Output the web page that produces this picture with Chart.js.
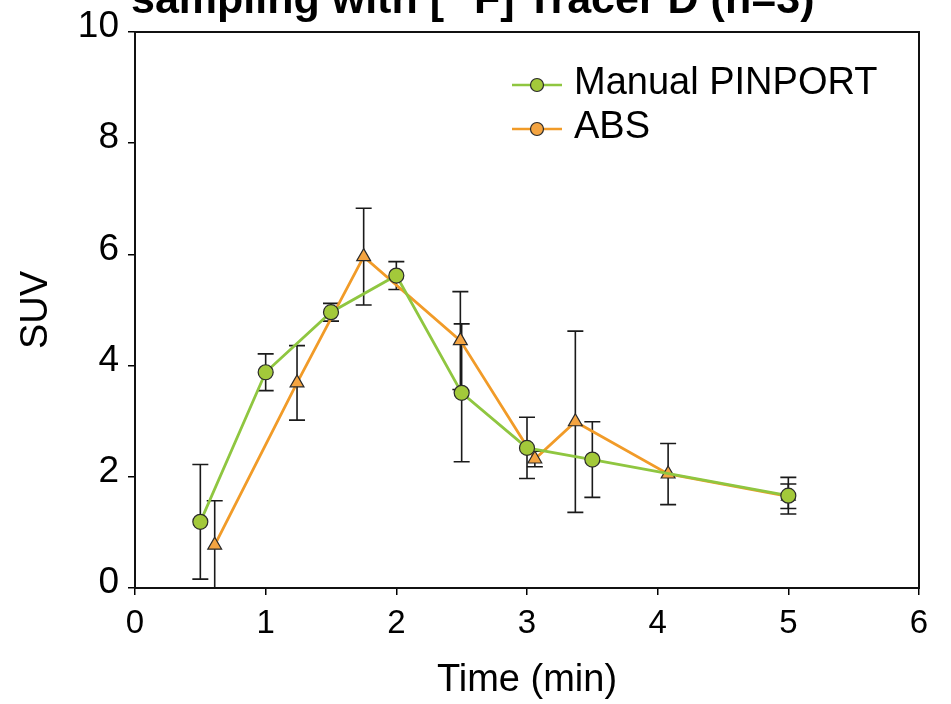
<!DOCTYPE html>
<html>
<head>
<meta charset="utf-8">
<script src="https://cdn.jsdelivr.net/npm/chart.js@4/dist/chart.umd.min.js"></script>
<style>
  html, body { margin: 0; padding: 0; background: #fff; }
  #wrap { width: 951px; height: 704px; position: relative; }
</style>
</head>
<body>
<div id="wrap"><canvas id="suvChart"></canvas></div>
<script>
// sampling times (min), mean SUV and SD for both methods
const pinportTime = [0.5, 1.0, 1.5, 2.0, 2.5, 3.0, 3.5, 5.0];
const pinportSUV  = [1.19, 3.88, 4.96, 5.62, 3.51, 2.52, 2.31, 1.66];
const pinportSD   = [1.03, 0.33, 0.16, 0.25, 1.24, 0.55, 0.68, 0.33];

const absTime = [0.61, 1.24, 1.75, 2.49, 3.06, 3.37, 4.08, 5.0];
const absSUV  = [0.77, 3.69, 5.96, 4.45, 2.32, 2.99, 2.05, 1.65];
const absSD   = [0.80, 0.67, 0.87, 0.88, 0.14, 1.63, 0.55, 0.22];

const seriesNames = ["Manual PINPORT", "ABS"];
const xTicks = [0, 1, 2, 3, 4, 5, 6];
const yTicks = [0, 2, 4, 6, 8, 10];

const GREEN_LINE = "#8fc640";
const GREEN_FILL = "#a3c93a";
const ORANGE_LINE = "#f19b28";
const ORANGE_FILL = "#f4a441";
const EDGE = "#2a2a2a";
const FONT = "Arial, 'Liberation Sans', sans-serif";

const toPts = (xs, ys) => xs.map((x, i) => ({ x: x, y: ys[i] }));

// vertical SD bars with caps, drawn under the markers
const errorBars = {
  id: "errorBars",
  beforeDatasetsDraw(chart) {
    const { ctx, chartArea, scales } = chart;
    const sets = [pinportSD, absSD];
    ctx.save();
    ctx.beginPath();
    ctx.rect(chartArea.left, chartArea.top, chartArea.right - chartArea.left, chartArea.bottom - chartArea.top + 1);
    ctx.clip();
    ctx.strokeStyle = "#1a1a1a";
    ctx.lineWidth = 1.6;
    chart.data.datasets.forEach((ds, di) => {
      ds.data.forEach((p, i) => {
        const sd = sets[di][i];
        const x = scales.x.getPixelForValue(p.x);
        const yTop = scales.y.getPixelForValue(p.y + sd);
        const yBot = scales.y.getPixelForValue(p.y - sd);
        const cap = 8;
        ctx.beginPath();
        ctx.moveTo(x, yTop); ctx.lineTo(x, yBot);
        ctx.moveTo(x - cap, yTop); ctx.lineTo(x + cap, yTop);
        ctx.moveTo(x - cap, yBot); ctx.lineTo(x + cap, yBot);
        ctx.stroke();
      });
    });
    ctx.restore();
  }
};

// closed frame round the plot area
const frame = {
  id: "frame",
  afterDraw(chart) {
    const { ctx, chartArea: a } = chart;
    ctx.save();
    ctx.strokeStyle = "#111";
    ctx.lineWidth = 2;
    ctx.strokeRect(a.left, a.top, a.right - a.left, a.bottom - a.top);
    ctx.restore();
  }
};

// heading, mostly above the top edge of the canvas
const heading = {
  id: "heading",
  afterDraw(chart) {
    const ctx = chart.ctx;
    ctx.save();
    ctx.fillStyle = "#000";
    ctx.textBaseline = "alphabetic";
    let x = 131;
    const y = 13;
    const parts = [["sampling with [", false], ["18", true], ["F] Tracer D (n=3)", false]];
    parts.forEach(([t, sup]) => {
      ctx.font = sup ? "bold 27px " + FONT : "bold 43px " + FONT;
      ctx.fillText(t, x, sup ? y - 18 : y);
      x += ctx.measureText(t).width;
    });
    ctx.restore();
  }
};

// legend inside the plot: line with round marker, then the name
const insideLegend = {
  id: "insideLegend",
  afterDraw(chart) {
    const ctx = chart.ctx;
    const rows = [
      { y: 85, line: GREEN_LINE, fill: GREEN_FILL },
      { y: 129, line: ORANGE_LINE, fill: ORANGE_FILL }
    ];
    ctx.save();
    rows.forEach((r, i) => {
      ctx.strokeStyle = r.line;
      ctx.lineWidth = 2.6;
      ctx.beginPath();
      ctx.moveTo(512, r.y); ctx.lineTo(562, r.y);
      ctx.stroke();
      ctx.beginPath();
      ctx.arc(537, r.y, 6.5, 0, Math.PI * 2);
      ctx.fillStyle = r.fill;
      ctx.fill();
      ctx.strokeStyle = EDGE;
      ctx.lineWidth = 1.2;
      ctx.stroke();
      ctx.fillStyle = "#000";
      ctx.font = "38px " + FONT;
      ctx.textBaseline = "middle";
      ctx.fillText(seriesNames[i], 574, r.y - 1);
    });
    ctx.restore();
  }
};

new Chart(document.getElementById("suvChart"), {
  type: "line",
  data: {
    datasets: [
      {
        label: seriesNames[0],
        data: toPts(pinportTime, pinportSUV),
        borderColor: GREEN_LINE,
        borderWidth: 2.8,
        pointStyle: "circle",
        pointRadius: 7.5,
        pointBackgroundColor: GREEN_FILL,
        pointBorderColor: EDGE,
        pointBorderWidth: 1.2,
        tension: 0
      },
      {
        label: seriesNames[1],
        data: toPts(absTime, absSUV),
        borderColor: ORANGE_LINE,
        borderWidth: 2.8,
        pointStyle: "triangle",
        pointRadius: 8,
        pointBackgroundColor: ORANGE_FILL,
        pointBorderColor: EDGE,
        pointBorderWidth: 1.2,
        tension: 0
      }
    ]
  },
  options: {
    responsive: true,
    maintainAspectRatio: false,
    animation: false,
    layout: { padding: { top: 32, right: 32, left: 0, bottom: 0 } },
    plugins: {
      legend: { display: false },
      tooltip: { enabled: false }
    },
    scales: {
      x: {
        type: "linear",
        min: xTicks[0],
        max: xTicks[xTicks.length - 1],
        afterBuildTicks(s) { s.ticks = xTicks.map(v => ({ value: v })); },
        afterFit(s) { s.height = 116; },
        ticks: { color: "#000", font: { family: FONT, size: 33 }, padding: 9 },
        grid: { drawOnChartArea: false, drawTicks: true, tickLength: 7, color: "#000", lineWidth: 1.5 },
        border: { color: "#111", width: 2 },
        title: {
          display: true,
          text: "Time (min)",
          color: "#000",
          font: { family: FONT, size: 38, lineHeight: 1 },
          padding: { top: 0, bottom: 4 }
        }
      },
      y: {
        type: "linear",
        min: yTicks[0],
        max: yTicks[yTicks.length - 1],
        afterBuildTicks(s) { s.ticks = yTicks.map(v => ({ value: v })); },
        afterFit(s) { s.width = 135; },
        ticks: { color: "#000", font: { family: FONT, size: 37 }, padding: 9, labelOffset: -5 },
        grid: { drawOnChartArea: false, drawTicks: true, tickLength: 7, color: "#000", lineWidth: 1.5 },
        border: { color: "#111", width: 2 },
        title: {
          display: true,
          text: "SUV",
          color: "#000",
          font: { family: FONT, size: 38, lineHeight: 1 },
          padding: { top: 18, bottom: 0 }
        }
      }
    }
  },
  plugins: [errorBars, frame, heading, insideLegend]
});
</script>
</body>
</html>
